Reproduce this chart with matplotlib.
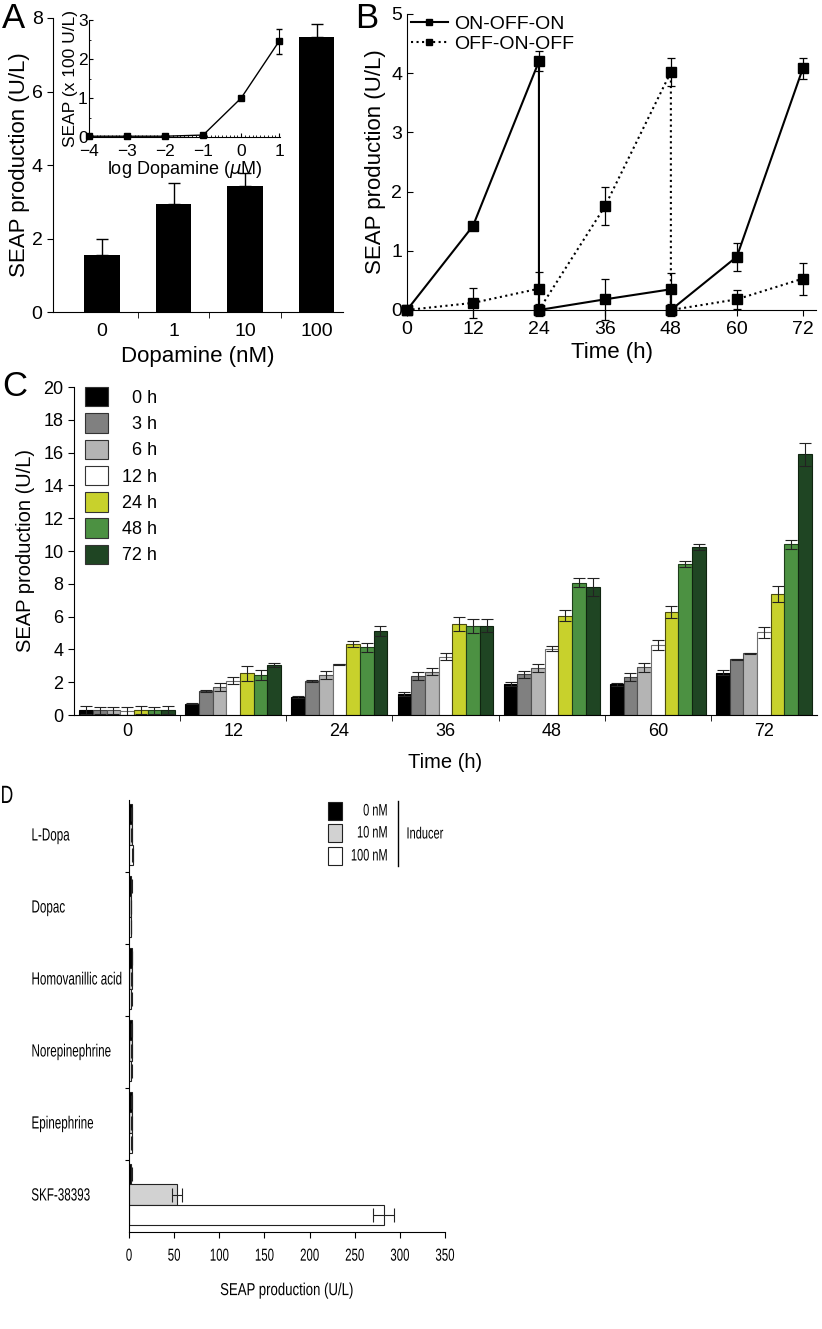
import numpy as np
import matplotlib
matplotlib.use('Agg')
import matplotlib.pyplot as plt
from matplotlib.patches import Patch, Rectangle
from matplotlib.lines import Line2D
from matplotlib.ticker import MultipleLocator, FixedLocator
from matplotlib.patheffects import AbstractPathEffect
from matplotlib.transforms import Affine2D
import matplotlib.transforms as mtransforms

plt.rcParams['font.family'] = ['Liberation Sans', 'DejaVu Sans']

# ---- panel A data
dopa_labels = ['0', '1', '10', '100']
dopa_seap = [1.55, 2.95, 3.42, 7.47]
dopa_err = [0.45, 0.55, 0.35, 0.38]

# inset
log_dopa = [-4, -3, -2, -1, 0, 1]
inset_seap = [0.02, 0.02, 0.02, 0.05, 1.0, 2.46]
inset_err = [0.01, 0.01, 0.01, 0.02, 0.02, 0.32]

# ---- panel B data
t_b = [0, 12, 24, 24, 36, 48, 48, 60, 72]
on_off_on = [0, 1.42, 4.2, 0, 0.18, 0.35, 0, 0.9, 4.08]
on_off_on_err = [0.02, 0.04, 0.17, 0.03, 0.35, 0.27, 0.03, 0.24, 0.18]
off_on_off = [0, 0.12, 0.36, 0, 1.75, 4.02, 0, 0.18, 0.53]
off_on_off_err = [0.02, 0.25, 0.28, 0.1, 0.32, 0.24, 0.1, 0.16, 0.27]

# ---- panel C data
c_times = ['0', '12', '24', '36', '48', '60', '72']
c_series = ['0 h', '3 h', '6 h', '12 h', '24 h', '48 h', '72 h']
c_vals = [
    [0.30, 0.70, 1.08, 1.28, 1.87, 1.87, 2.58],    # 0 h
    [0.28, 1.46, 2.07, 2.38, 2.48, 2.30, 3.41],    # 3 h
    [0.28, 1.73, 2.44, 2.65, 2.85, 2.90, 3.76],    # 6 h
    [0.25, 2.09, 3.09, 3.56, 4.04, 4.27, 5.04],    # 12 h
    [0.30, 2.54, 4.33, 5.53, 6.06, 6.30, 7.36],    # 24 h
    [0.28, 2.44, 4.13, 5.43, 8.07, 9.20, 10.40],   # 48 h
    [0.30, 3.05, 5.10, 5.45, 7.78, 10.22, 15.90],  # 72 h
]
c_errs = [
    [0.22, 0.05, 0.05, 0.15, 0.12, 0.10, 0.16],
    [0.22, 0.06, 0.06, 0.25, 0.20, 0.25, 0.03],
    [0.22, 0.25, 0.25, 0.20, 0.25, 0.25, 0.05],
    [0.22, 0.20, 0.03, 0.20, 0.15, 0.30, 0.35],
    [0.22, 0.45, 0.20, 0.43, 0.35, 0.37, 0.50],
    [0.22, 0.28, 0.28, 0.40, 0.28, 0.20, 0.27],
    [0.22, 0.10, 0.30, 0.38, 0.55, 0.18, 0.70],
]
c_colors = ['#000000', '#808080', '#b4b4b4', '#ffffff', '#c8d12c', '#4c9142', '#1f4523']
c_edges = ['#000000', '#404040', '#505050', '#707070', '#4a4a10', '#1e3e1a', '#0f2410']

# ---- panel D data
inducers = ['L-Dopa', 'Dopac', 'Homovanillic acid', 'Norepinephrine', 'Epinephrine', 'SKF-38393']
conc_labels = ['0 nM', '10 nM', '100 nM']
d_vals = [
    [3.0, 2.5, 3.5, 3.0, 3.0, 2.5],      # 0 nM
    [3.0, 2.0, 3.0, 3.0, 3.0, 53.0],     # 10 nM
    [4.0, 2.0, 2.5, 2.5, 3.0, 282.0],    # 100 nM
]
d_errs = [
    [0.3, 0.3, 0.3, 0.3, 0.3, 0.3],
    [0.3, 0.3, 0.3, 0.3, 0.3, 5.8],
    [0.3, 0.3, 0.3, 0.3, 0.3, 11.8],
]
d_colors = ['#000000', '#d2d2d2', '#ffffff']


class Squeeze(AbstractPathEffect):
    """draw text glyphs horizontally compressed (panel D uses a narrow face)"""

    def __init__(self, sx, anchor='left'):
        super().__init__()
        self.sx = sx
        self.anchor = anchor

    def draw_path(self, renderer, gc, tpath, affine, rgbFace=None):
        ext = tpath.get_extents(affine)
        if self.anchor == 'left':
            x0 = ext.x0
        elif self.anchor == 'right':
            x0 = ext.x1
        else:
            x0 = 0.5 * (ext.x0 + ext.x1)
        t = affine + Affine2D().translate(-x0, 0).scale(self.sx, 1).translate(x0, 0)
        renderer.draw_path(gc, tpath, t, rgbFace)


SQ = 0.66

W, H = 822, 1329
fig = plt.figure(figsize=(W / 100, H / 100), dpi=100)


def box(l, t, r, b):
    return [l / W, 1 - b / H, (r - l) / W, (b - t) / H]


def style(ax):
    ax.spines['top'].set_visible(False)
    ax.spines['right'].set_visible(False)


# ================= A
axA = fig.add_axes(box(53, 18, 343, 312))
style(axA)
xa = np.arange(len(dopa_labels))
axA.bar(xa, dopa_seap, width=0.5, color='k',
        yerr=[np.zeros(4), dopa_err], error_kw=dict(ecolor='k', elinewidth=1, capsize=4, capthick=1))
axA.set_xlim(-0.685, 3.37)
axA.set_ylim(0, 8)
axA.set_yticks([0, 2, 4, 6, 8])
axA.set_xticks(xa)
axA.set_xticklabels(dopa_labels)
axA.xaxis.set_minor_locator(FixedLocator([0.5, 1.5, 2.5]))
axA.tick_params(axis='x', which='major', length=0, labelsize=14, pad=8)
axA.tick_params(axis='x', which='minor', length=4, direction='out')
axA.tick_params(axis='y', labelsize=14, length=4, direction='out')
axA.set_ylabel('SEAP production (U/L)', fontsize=16, labelpad=1)
axA.set_xlabel('Dopamine (nM)', fontsize=16, labelpad=4)
fig.text(2 / W, 1 - 28 / H, 'A', fontsize=25)

# inset
axI = fig.add_axes(box(89, 20, 280, 137))
style(axI)
axI.patch.set_alpha(0)
axI.errorbar(log_dopa, inset_seap, yerr=inset_err, color='k', lw=1, marker='s', ms=4,
             capsize=2.5, elinewidth=0.8, clip_on=False)
axI.set_xlim(-4, 1.02)
axI.set_ylim(0, 3)
axI.set_xticks(log_dopa)
axI.set_yticks([0, 1, 2, 3])
axI.xaxis.set_minor_locator(MultipleLocator(0.1))
axI.yaxis.set_minor_locator(MultipleLocator(0.5))
axI.tick_params(axis='both', which='major', labelsize=12.5, length=3, direction='in', pad=1)
axI.tick_params(axis='x', which='major', pad=5)
axI.tick_params(axis='both', which='minor', length=1.5, direction='in')
axI.set_xlabel('log Dopamine ($\\mu$M)', fontsize=13, labelpad=0)
axI.set_ylabel('SEAP (x 100 U/L)', fontsize=12.5, labelpad=0)

# ================= B
axB = fig.add_axes(box(407, 14, 816, 310))
style(axB)
axB.errorbar(t_b, on_off_on, yerr=on_off_on_err, color='k', lw=1.5, ls='-', marker='s', ms=7,
             capsize=3, elinewidth=0.9, capthick=0.9, clip_on=False)
axB.errorbar(t_b, off_on_off, yerr=off_on_off_err, color='k', lw=1.5, ls=':', marker='s', ms=7,
             capsize=3, elinewidth=0.9, capthick=0.9, clip_on=False)
axB.set_xlim(0, 74.4)
axB.set_ylim(0, 5)
axB.set_xticks([0, 12, 24, 36, 48, 60, 72])
axB.set_yticks([0, 1, 2, 3, 4, 5])
axB.tick_params(axis='y', labelsize=14, length=4, direction='in')
axB.tick_params(axis='x', labelsize=14, length=4, direction='out', pad=4)
axB.set_ylabel('SEAP production (U/L)', fontsize=16, labelpad=4)
axB.set_xlabel('Time (h)', fontsize=16, labelpad=3)
axB.legend(handles=[Line2D([], [], color='k', lw=1.5, ls='-', marker='s', ms=4),
                    Line2D([], [], color='k', lw=1.5, ls=':', marker='s', ms=4)],
           labels=['ON-OFF-ON', 'OFF-ON-OFF'], loc='upper left', frameon=False,
           fontsize=14, handlelength=1.9, handletextpad=0.3, labelspacing=0.15,
           borderaxespad=0, borderpad=0, bbox_to_anchor=(411 / W, 1 - 15 / H),
           bbox_transform=fig.transFigure)
fig.text(355 / W, 1 - 28 / H, 'B', fontsize=25)

# ================= C
axC = fig.add_axes(box(74, 387, 817, 715))
style(axC)
xc = np.arange(len(c_times))
bw = 0.129
for i, s in enumerate(c_series):
    axC.bar(xc + (i - 3) * bw, c_vals[i], width=bw, color=c_colors[i], edgecolor=c_edges[i],
            linewidth=0.8, yerr=c_errs[i],
            error_kw=dict(ecolor='#222222', elinewidth=0.8, capsize=4, capthick=0.8))
axC.set_xlim(-0.5, 6.5)
axC.set_ylim(0, 20)
axC.set_yticks(range(0, 21, 2))
axC.set_xticks(xc)
axC.set_xticklabels(c_times)
axC.xaxis.set_minor_locator(FixedLocator(np.arange(0.5, 6, 1)))
axC.tick_params(axis='x', which='major', length=0, labelsize=13, pad=6)
axC.tick_params(axis='x', which='minor', length=4, direction='out')
axC.tick_params(axis='y', labelsize=13, length=4, direction='out')
axC.set_ylabel('SEAP production (U/L)', fontsize=14.5, labelpad=6)
axC.set_xlabel('Time (h)', fontsize=14.5, labelpad=9)
c_leg_labels = ['  0 h', '  3 h', '  6 h', '12 h', '24 h', '48 h', '72 h']
axC.legend(handles=[Patch(facecolor=c_colors[i], edgecolor='#333333', linewidth=0.8) for i in range(7)],
           labels=c_leg_labels, loc='upper left', frameon=False, fontsize=13,
           handlelength=1.28, handleheight=1.28, handletextpad=0.75, labelspacing=0.36,
           borderaxespad=0, borderpad=0, bbox_to_anchor=(85 / W, 1 - 387 / H),
           bbox_transform=fig.transFigure)
fig.text(2 / W, 1 - 396 / H, 'C', fontsize=25)

# ================= D
axD = fig.add_axes(box(129, 800, 445, 1232))
style(axD)
yd = np.arange(len(inducers))
offs = [-0.30, -0.02, 0.26]
for k in range(3):
    axD.barh(yd + offs[k], d_vals[k], height=0.28, color=d_colors[k], edgecolor='#222222',
             linewidth=0.8, xerr=d_errs[k],
             error_kw=dict(ecolor='#222222', elinewidth=0.8, capsize=5, capthick=0.8))
axD.set_ylim(5.5, -0.5)
axD.set_xlim(0, 350)
axD.set_xticks(range(0, 351, 50))
axD.set_yticks(np.arange(0.5, 5, 1))
axD.set_yticklabels([])
axD.tick_params(axis='y', length=3, direction='out')
axD.tick_params(axis='x', length=4, direction='out', pad=8, labelsize=12.5)
for lab in axD.get_xticklabels():
    lab.set_path_effects([Squeeze(SQ, 'center')])
axD.set_xlabel('SEAP production (U/L)', fontsize=12.5, labelpad=14,
               path_effects=[Squeeze(0.76, 'center')])
trD = mtransforms.blended_transform_factory(fig.transFigure, axD.transData)
for i, name in enumerate(inducers):
    axD.text(31 / W, i, name, transform=trD, ha='left', va='center', fontsize=12.7,
             path_effects=[Squeeze(SQ, 'left')])

# legend for D, drawn as a key box like the original
key_tops = [802, 824, 847]
for k in range(3):
    fig.add_artist(Rectangle((328 / W, 1 - (key_tops[k] + 18) / H), 14 / W, 18 / H,
                             transform=fig.transFigure, facecolor=d_colors[k],
                             edgecolor='#222222', linewidth=0.8))
    fig.text(388 / W, 1 - (key_tops[k] + 9) / H, conc_labels[k], ha='right', va='center',
             fontsize=12, path_effects=[Squeeze(SQ, 'right')])
fig.add_artist(Line2D([398 / W, 398 / W], [1 - 801 / H, 1 - 866 / H], transform=fig.transFigure,
                      color='k', lw=1))
fig.text(406 / W, 1 - 834 / H, 'Inducer', va='center', fontsize=11.7,
         path_effects=[Squeeze(0.68, 'left')])
fig.text(0 / W, 1 - 803 / H, 'D', fontsize=18, path_effects=[Squeeze(0.7, 'left')])

fig.savefig('out.png', dpi=100)
